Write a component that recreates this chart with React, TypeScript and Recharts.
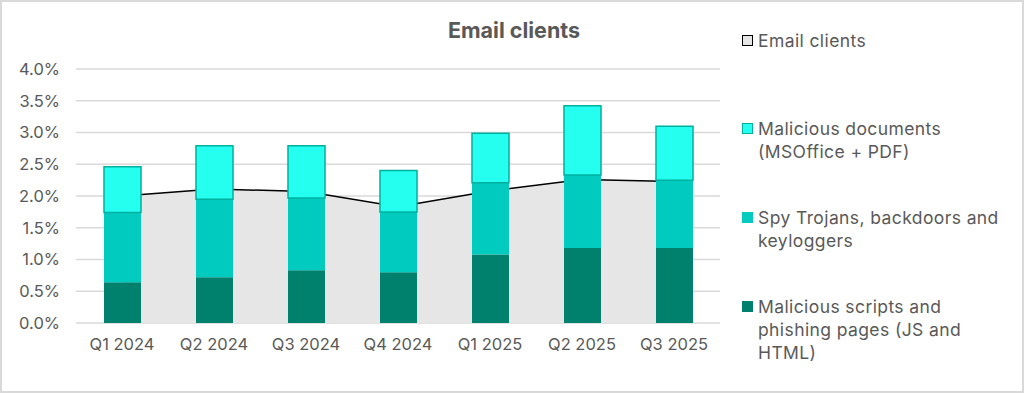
import { ComposedChart, Area, Bar, XAxis, YAxis, CartesianGrid } from "recharts";

const quarters = ["Q1 2024", "Q2 2024", "Q3 2024", "Q4 2024", "Q1 2025", "Q2 2025", "Q3 2025"];
const scripts = [0.64, 0.72, 0.83, 0.8, 1.08, 1.18, 1.18];
const spyTrojans = [1.1, 1.23, 1.14, 0.95, 1.13, 1.15, 1.07];
const documents = [0.72, 0.84, 0.82, 0.65, 0.78, 1.09, 0.85];
const emailClients = [2.0, 2.11, 2.07, 1.83, 2.08, 2.26, 2.23];
const yTicks = [0, 0.5, 1, 1.5, 2, 2.5, 3, 3.5, 4];

const FONT = "Inter, 'Noto Sans', sans-serif";
const TEXT = "#595959";

const data = quarters.map((q, i) => ({
  q,
  scripts: scripts[i],
  spy: spyTrojans[i],
  docs: documents[i],
  email: emailClients[i],
}));

const legendItems = [
  { label: ["Email clients"], fill: "#e6e6e6", stroke: "#000", top: 29 },
  { label: ["Malicious documents", "(MSOffice + PDF)"], fill: "#24fff0", stroke: "#00b09e", top: 117 },
  { label: ["Spy Trojans, backdoors and", "keyloggers"], fill: "#00cbbe", stroke: "#00cbbe", top: 206 },
  { label: ["Malicious scripts and", "phishing pages (JS and", "HTML)"], fill: "#00816e", stroke: "#00816e", top: 295 },
];

export default function App() {
  return (
    <div
      style={{
        position: "absolute",
        left: 0,
        top: 0,
        width: 1024,
        height: 393,
        boxSizing: "border-box",
        border: "2px solid #d9d9d9",
        background: "#fff",
        fontFamily: FONT,
        overflow: "hidden",
      }}
    >
      <div
        style={{
          position: "absolute",
          left: 412,
          top: 14,
          width: 200,
          textAlign: "center",
          fontSize: 21.5,
          fontWeight: 700,
          color: TEXT,
          lineHeight: "28px",
        }}
      >
        Email clients
      </div>

      <div style={{ position: "absolute", left: -2, top: -2 }}>
        <ComposedChart
          width={740}
          height={393}
          data={data}
          margin={{ top: 69, right: 20, bottom: 40, left: 16 }}
          barSize={37}
        >
          <CartesianGrid vertical={false} stroke="#d9d9d9" strokeWidth={1.5} />
          <XAxis
            dataKey="q"
            axisLine={false}
            tickLine={false}
            tickSize={0}
            tickMargin={15}
            height={30}
            tick={{ fill: TEXT, fontSize: 16.5, fontFamily: FONT }}
          />
          <YAxis
            domain={[0, 4]}
            ticks={yTicks}
            width={60}
            axisLine={false}
            tickLine={false}
            tickSize={0}
            tickMargin={16}
            tickFormatter={(v: number) => `${v.toFixed(1)}%`}
            tick={{ fill: TEXT, fontSize: 16.5, fontFamily: FONT }}
          />
          <Area
            type="linear"
            dataKey="email"
            fill="#e6e6e6"
            fillOpacity={1}
            stroke="#000"
            strokeWidth={1.5}
            isAnimationActive={false}
          />
          <Bar dataKey="scripts" stackId="a" fill="#00816e" isAnimationActive={false} />
          <Bar dataKey="spy" stackId="a" fill="#00cbbe" isAnimationActive={false} />
          <Bar
            dataKey="docs"
            stackId="a"
            fill="#24fff0"
            stroke="#00b09e"
            strokeWidth={1.5}
            isAnimationActive={false}
          />
        </ComposedChart>
      </div>

      {legendItems.map((item) => (
        <div
          key={item.label[0]}
          style={{ position: "absolute", left: 740, top: item.top - 2, display: "flex", alignItems: "flex-start" }}
        >
          <div
            style={{
              width: 11,
              height: 11,
              boxSizing: "border-box",
              marginTop: 6,
              marginRight: 5,
              background: item.fill,
              border: `1.5px solid ${item.stroke}`,
            }}
          />
          <div
            style={{
              fontSize: 17.5,
              letterSpacing: 0.4,
              lineHeight: "23px",
              color: TEXT,
              whiteSpace: "nowrap",
            }}
          >
            {item.label.map((l) => (
              <div key={l}>{l}</div>
            ))}
          </div>
        </div>
      ))}
    </div>
  );
}
